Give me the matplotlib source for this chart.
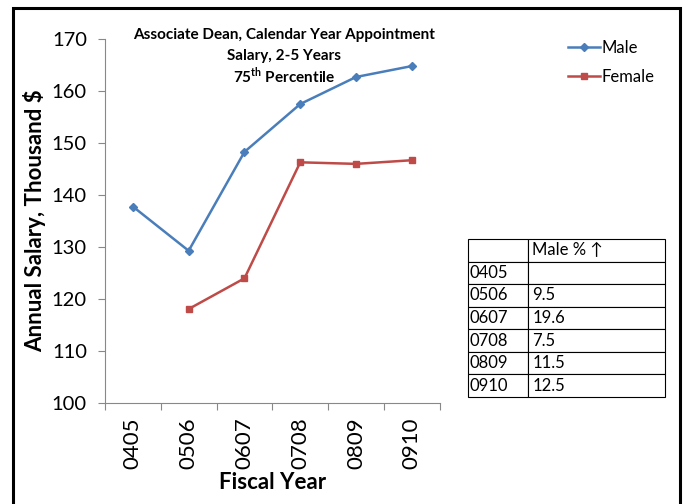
import matplotlib.pyplot as plt
from matplotlib.patches import Rectangle

plt.rcParams['font.family'] = ['Lato', 'DejaVu Sans']

years = ["0405", "0506", "0607", "0708", "0809", "0910"]
male = [137.8, 129.3, 148.3, 157.5, 162.7, 164.8]
female = [None, 118.1, 124.0, 146.3, 146.0, 146.7]
male_pct_up = ["", "9.5", "19.6", "7.5", "11.5", "12.5"]

fig = plt.figure(figsize=(6.86, 5.04), dpi=100)
ax = fig.add_axes([0.153, 0.2, 0.488, 0.7226])

x = list(range(len(years)))
ax.plot(x, male, color="#4A7EBB", marker="D", markersize=4, linewidth=1.8, label="Male")
fx = [i for i, v in zip(x, female) if v is not None]
fv = [v for v in female if v is not None]
ax.plot(fx, fv, color="#BE4B48", marker="s", markersize=5, linewidth=1.8, label="Female")

ax.set_xlim(-0.5, len(years) - 0.5)
ax.set_ylim(100, 170)
ax.set_yticks(range(100, 171, 10))
ax.set_xticks([i - 0.5 for i in range(len(years) + 1)], minor=False)
ax.set_xticklabels([])
ax.set_xticks(x, minor=True)
ax.set_xticklabels(years, minor=True, rotation=90, fontsize=16)
ax.tick_params(axis="x", which="minor", length=0, pad=10)
ax.tick_params(axis="x", which="major", length=5, color="#888888")
ax.tick_params(axis="y", labelsize=14.5, length=5, color="#888888", pad=8)
for s in ["top", "right"]:
    ax.spines[s].set_visible(False)
for s in ["left", "bottom"]:
    ax.spines[s].set_color("#888888")

ax.set_ylabel("Annual Salary, Thousand $", fontsize=16, fontweight="bold", labelpad=4)
ax.set_xlabel("Fiscal Year", fontsize=16, fontweight="bold", labelpad=2)

fig.text(0.414, 1 - 35 / 504, "Associate Dean, Calendar Year Appointment",
         ha="center", va="center", fontsize=11, fontweight="bold")
fig.text(0.414, 1 - 56 / 504, "Salary, 2-5 Years",
         ha="center", va="center", fontsize=11, fontweight="bold")
fig.text(0.414, 1 - 76 / 504, "75$^{\\mathregular{th}}$ Percentile", ha="center", va="center",
         fontsize=11, fontweight="bold")

fig.legend(loc="upper left", bbox_to_anchor=(0.806, 0.951), frameon=False,
           fontsize=12, handlelength=1.9, handletextpad=0.1, labelspacing=0.8)

tax = fig.add_axes([468 / 686, 1 - 397 / 504, 197 / 686, 158 / 504])
tax.axis("off")
rows = [["", "Male % \u2191"]] + [[y, v] for y, v in zip(years, male_pct_up)]
tbl = tax.table(cellText=rows, bbox=[0, 0, 1, 1], colWidths=[60, 137], cellLoc="left")
tbl.auto_set_font_size(False)
tbl.set_fontsize(12)
for cell in tbl.get_celld().values():
    cell.set_linewidth(0.8)
    cell.PAD = 0.03

fig.add_artist(Rectangle((13 / 686, -0.05), 667 / 686, 1.05 - 8 / 504,
                         transform=fig.transFigure, fill=False,
                         edgecolor="black", linewidth=2.2))

fig.savefig("out.png", dpi=100)
